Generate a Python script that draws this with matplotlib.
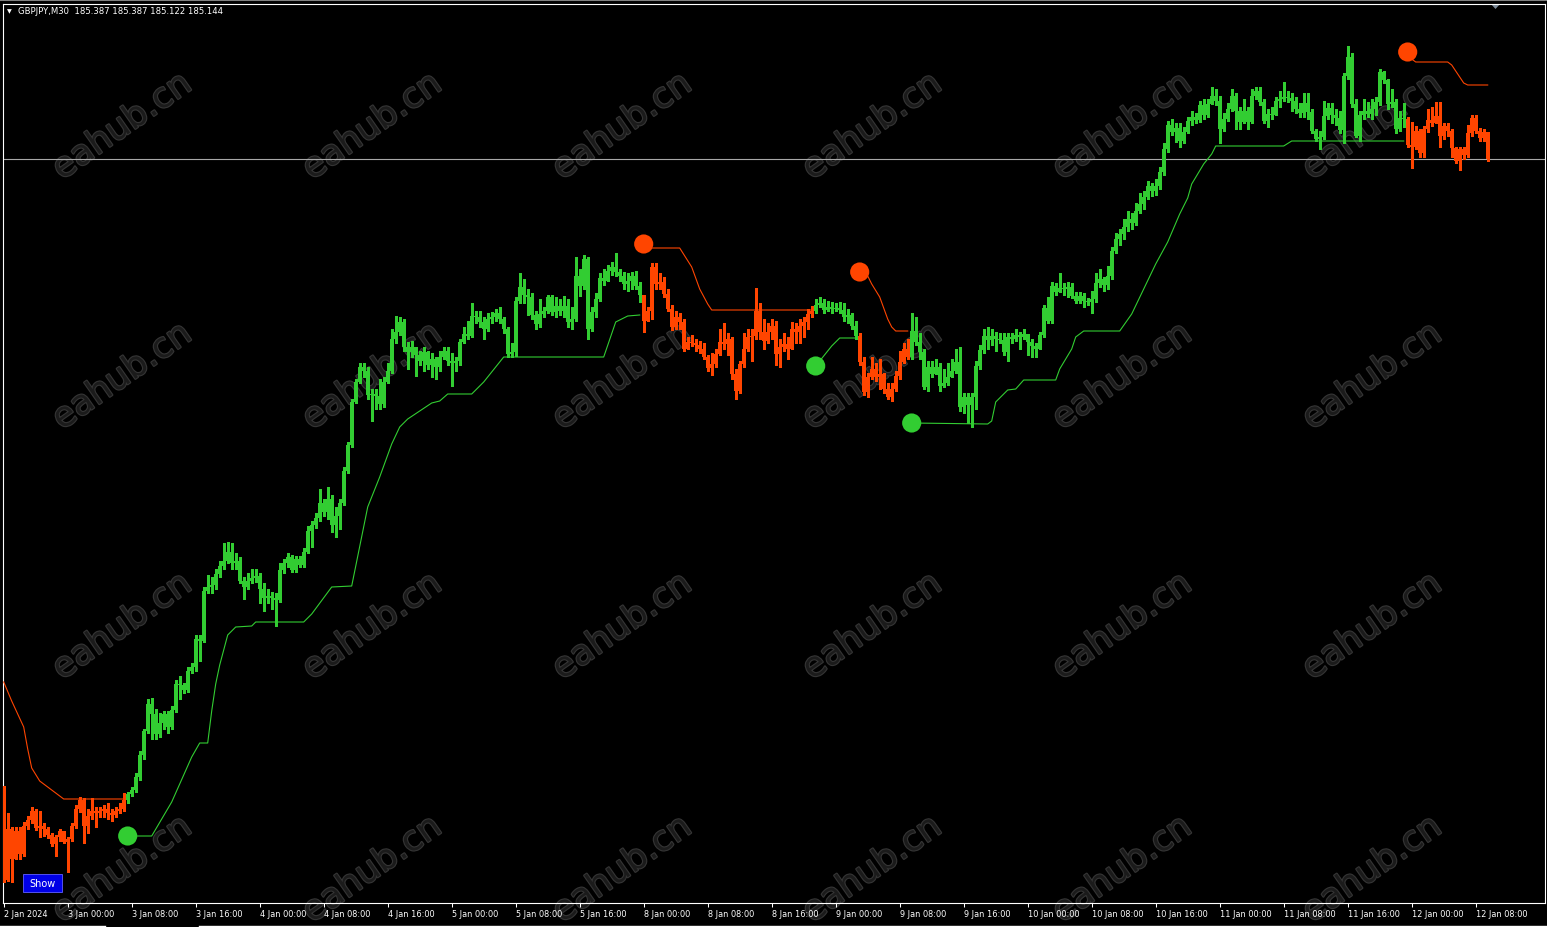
import matplotlib
matplotlib.use("Agg")
import matplotlib.pyplot as plt
import matplotlib.patheffects as pe
from matplotlib.lines import Line2D
from matplotlib.patches import Rectangle, Polygon

# ---------------- data (GBPJPY M30, 2 Jan 16:00 -> 12 Jan 09:30) ----------------
symbol = "GBPJPY,M30"
last_ohlc = [185.387, 185.387, 185.122, 185.144]
first_open = 179.461

closes = [
    178.651, 179.110, 178.840, 179.092, 178.885, 179.137, 179.191, 179.272, 179.119, 179.137,
    179.110, 179.056, 178.975, 179.038, 179.092, 178.993, 179.020, 179.137, 179.290, 179.371,
    179.137, 179.227, 179.272, 179.254, 179.272, 179.290, 179.254, 179.236, 179.272, 179.290,
    179.371, 179.425, 179.461, 179.578, 179.776, 179.992, 180.235, 180.145, 179.965, 180.064,
    180.145, 180.028, 180.181, 180.415, 180.406, 180.361, 180.532, 180.568, 180.820, 180.802,
    181.252, 181.288, 181.306, 181.405, 181.477, 181.522, 181.603, 181.504, 181.522, 181.342,
    181.288, 181.342, 181.369, 181.387, 181.270, 181.189, 181.207, 181.189, 181.171, 181.441,
    181.504, 181.558, 181.441, 181.540, 181.486, 181.603, 181.792, 181.846, 181.909, 182.044,
    181.963, 182.080, 181.846, 181.927, 182.044, 182.332, 182.566, 182.953, 183.133, 183.268,
    183.232, 183.016, 183.025, 183.007, 182.935, 183.133, 183.232, 183.520, 183.583, 183.673,
    183.448, 183.403, 183.448, 183.376, 183.322, 183.403, 183.286, 183.340, 183.268, 183.358,
    183.412, 183.322, 183.304, 183.322, 183.493, 183.565, 183.547, 183.727, 183.718, 183.673,
    183.610, 183.700, 183.718, 183.754, 183.700, 183.610, 183.385, 183.403, 183.862, 183.988,
    183.916, 183.898, 183.736, 183.655, 183.745, 183.772, 183.898, 183.763, 183.817, 183.772,
    183.817, 183.673, 183.700, 184.087, 183.997, 184.240, 183.610, 183.763, 183.880, 184.069,
    184.042, 184.132, 184.168, 184.123, 184.087, 184.015, 184.042, 184.087, 183.997, 183.916,
    183.682, 183.772, 184.168, 184.015, 184.033, 183.925, 183.790, 183.628, 183.718, 183.673,
    183.430, 183.493, 183.484, 183.466, 183.430, 183.358, 183.259, 183.295, 183.385, 183.493,
    183.475, 183.520, 183.205, 183.052, 183.295, 183.430, 183.538, 183.547, 183.772, 183.583,
    183.502, 183.583, 183.637, 183.385, 183.448, 183.475, 183.430, 183.610, 183.583, 183.637,
    183.673, 183.745, 183.772, 183.826, 183.844, 183.781, 183.808, 183.790, 183.799, 183.781,
    183.718, 183.736, 183.637, 183.547, 183.313, 183.043, 183.178, 183.250, 183.178, 183.205,
    183.070, 182.998, 183.070, 183.187, 183.313, 183.430, 183.358, 183.592, 183.493, 183.403,
    183.088, 183.268, 183.205, 183.268, 183.097, 183.124, 183.178, 183.232, 183.313, 182.908,
    182.998, 182.926, 182.998, 183.277, 183.421, 183.547, 183.511, 183.547, 183.520, 183.511,
    183.403, 183.538, 183.520, 183.556, 183.538, 183.565, 183.493, 183.457, 183.430, 183.556,
    183.799, 183.682, 183.997, 183.943, 183.979, 183.970, 183.988, 183.907, 183.862, 183.907,
    183.862, 183.853, 183.880, 184.024, 184.060, 184.006, 184.087, 184.312, 184.420, 184.465,
    184.528, 184.600, 184.564, 184.672, 184.735, 184.798, 184.897, 184.852, 184.897, 185.023,
    185.230, 185.446, 185.383, 185.419, 185.302, 185.383, 185.482, 185.518, 185.491, 185.626,
    185.536, 185.635, 185.707, 185.662, 185.410, 185.500, 185.590, 185.707, 185.572, 185.473,
    185.572, 185.473, 185.707, 185.752, 185.653, 185.482, 185.545, 185.536, 185.662, 185.680,
    185.698, 185.689, 185.662, 185.590, 185.554, 185.644, 185.563, 185.392, 185.320, 185.338,
    185.527, 185.599, 185.536, 185.509, 185.401, 185.887, 186.058, 185.635, 185.347, 185.536,
    185.572, 185.545, 185.590, 185.653, 185.923, 185.851, 185.635, 185.653, 185.410, 185.509,
    185.500, 185.266, 185.248, 185.392, 185.194, 185.410, 185.491, 185.464, 185.527, 185.347,
    185.437, 185.392, 185.239, 185.122, 185.230, 185.176, 185.374, 185.509, 185.392, 185.329,
    185.387, 185.144,
]

highs = [
    179.50, 179.25, 179.13, 179.13, 179.13, 179.17, 179.23, 179.31, 179.29, 179.27,
    179.16, 179.13, 179.07, 179.06, 179.11, 179.09, 179.04, 179.16, 179.33, 179.40,
    179.39, 179.29, 179.39, 179.31, 179.31, 179.33, 179.34, 179.29, 179.31, 179.34,
    179.43, 179.44, 179.49, 179.61, 179.81, 180.01, 180.28, 180.29, 180.19, 180.15,
    180.17, 180.17, 180.22, 180.45, 180.49, 180.42, 180.57, 180.60, 180.86, 180.86,
    181.29, 181.40, 181.38, 181.45, 181.52, 181.68, 181.69, 181.68, 181.59, 181.56,
    181.38, 181.41, 181.45, 181.45, 181.41, 181.32, 181.27, 181.24, 181.23, 181.50,
    181.54, 181.59, 181.58, 181.57, 181.57, 181.64, 181.84, 181.88, 181.95, 182.17,
    182.08, 182.19, 182.12, 182.01, 182.08, 182.37, 182.59, 182.98, 183.16, 183.30,
    183.30, 183.27, 183.07, 183.07, 183.16, 183.18, 183.30, 183.61, 183.73, 183.72,
    183.70, 183.49, 183.50, 183.43, 183.41, 183.45, 183.41, 183.39, 183.36, 183.41,
    183.45, 183.45, 183.39, 183.36, 183.52, 183.63, 183.68, 183.84, 183.77, 183.77,
    183.72, 183.75, 183.76, 183.79, 183.81, 183.72, 183.63, 183.48, 183.90, 184.11,
    184.06, 183.97, 183.93, 183.77, 183.88, 183.81, 183.92, 183.92, 183.90, 183.88,
    183.91, 183.88, 183.81, 184.26, 184.15, 184.28, 184.26, 183.81, 183.93, 184.11,
    184.15, 184.19, 184.21, 184.29, 184.15, 184.12, 184.11, 184.12, 184.13, 184.03,
    183.77, 183.81, 184.20, 184.20, 184.11, 184.08, 183.97, 183.83, 183.77, 183.75,
    183.70, 183.54, 183.56, 183.52, 183.50, 183.48, 183.38, 183.39, 183.43, 183.61,
    183.66, 183.57, 183.54, 183.25, 183.32, 183.57, 183.61, 183.61, 183.98, 183.84,
    183.70, 183.66, 183.70, 183.68, 183.52, 183.57, 183.54, 183.67, 183.66, 183.70,
    183.72, 183.79, 183.82, 183.88, 183.90, 183.88, 183.86, 183.85, 183.84, 183.85,
    183.84, 183.79, 183.75, 183.68, 183.57, 183.36, 183.21, 183.36, 183.30, 183.34,
    183.21, 183.12, 183.12, 183.23, 183.41, 183.48, 183.52, 183.75, 183.72, 183.57,
    183.43, 183.32, 183.32, 183.34, 183.30, 183.25, 183.30, 183.34, 183.43, 183.45,
    183.03, 183.03, 183.03, 183.32, 183.47, 183.61, 183.63, 183.61, 183.58, 183.57,
    183.57, 183.57, 183.57, 183.61, 183.58, 183.61, 183.56, 183.52, 183.48, 183.58,
    183.83, 183.90, 184.03, 184.02, 184.11, 184.02, 184.03, 184.02, 183.94, 183.94,
    183.93, 183.89, 183.95, 184.11, 184.15, 184.08, 184.18, 184.35, 184.47, 184.51,
    184.60, 184.67, 184.65, 184.74, 184.83, 184.85, 184.94, 184.92, 184.96, 185.07,
    185.28, 185.48, 185.50, 185.46, 185.46, 185.43, 185.52, 185.57, 185.55, 185.66,
    185.68, 185.68, 185.79, 185.77, 185.71, 185.55, 185.64, 185.77, 185.73, 185.61,
    185.68, 185.61, 185.77, 185.79, 185.79, 185.68, 185.59, 185.61, 185.70, 185.75,
    185.83, 185.75, 185.73, 185.70, 185.64, 185.73, 185.73, 185.59, 185.41, 185.39,
    185.66, 185.64, 185.64, 185.59, 185.57, 185.91, 186.16, 186.09, 185.68, 185.57,
    185.68, 185.65, 185.68, 185.70, 185.95, 185.93, 185.86, 185.77, 185.68, 185.57,
    185.64, 185.52, 185.47, 185.44, 185.41, 185.44, 185.59, 185.61, 185.65, 185.65,
    185.46, 185.46, 185.41, 185.25, 185.25, 185.25, 185.45, 185.54, 185.54, 185.42,
    185.41, 185.387,
]

lows = [
    178.63, 178.64, 178.63, 178.86, 178.84, 178.87, 179.11, 179.16, 179.10, 179.04,
    179.05, 179.03, 178.96, 178.87, 179.00, 178.98, 178.72, 179.00, 179.12, 179.26,
    178.98, 179.07, 179.20, 179.13, 179.22, 179.22, 179.20, 179.18, 179.22, 179.25,
    179.27, 179.34, 179.41, 179.44, 179.55, 179.74, 179.97, 179.92, 179.92, 179.94,
    180.01, 179.97, 180.01, 180.16, 180.28, 180.33, 180.34, 180.51, 180.53, 180.62,
    180.79, 181.23, 181.23, 181.27, 181.38, 181.45, 181.50, 181.45, 181.45, 181.32,
    181.18, 181.27, 181.32, 181.33, 181.14, 181.07, 181.14, 181.09, 180.94, 181.15,
    181.41, 181.47, 181.42, 181.42, 181.47, 181.47, 181.59, 181.65, 181.82, 181.88,
    181.93, 181.90, 181.78, 181.74, 181.81, 182.03, 182.31, 182.55, 182.94, 183.12,
    183.18, 182.98, 182.78, 182.89, 182.89, 182.91, 183.12, 183.21, 183.48, 183.56,
    183.41, 183.25, 183.36, 183.19, 183.29, 183.23, 183.25, 183.18, 183.16, 183.23,
    183.34, 183.29, 183.10, 183.23, 183.29, 183.48, 183.52, 183.54, 183.66, 183.63,
    183.52, 183.59, 183.66, 183.68, 183.66, 183.57, 183.36, 183.36, 183.37, 183.84,
    183.84, 183.74, 183.70, 183.61, 183.63, 183.72, 183.75, 183.74, 183.72, 183.74,
    183.72, 183.63, 183.61, 183.68, 183.91, 183.97, 183.52, 183.59, 183.72, 183.86,
    184.01, 184.06, 184.10, 184.09, 184.04, 183.97, 183.95, 183.97, 183.97, 183.85,
    183.58, 183.68, 183.70, 183.97, 183.97, 183.90, 183.77, 183.60, 183.61, 183.61,
    183.41, 183.43, 183.46, 183.41, 183.39, 183.34, 183.23, 183.20, 183.27, 183.38,
    183.43, 183.38, 183.16, 182.98, 183.03, 183.27, 183.41, 183.32, 183.52, 183.52,
    183.43, 183.48, 183.52, 183.29, 183.27, 183.41, 183.34, 183.43, 183.48, 183.48,
    183.54, 183.61, 183.72, 183.75, 183.81, 183.75, 183.77, 183.75, 183.77, 183.75,
    183.68, 183.66, 183.61, 183.52, 183.29, 183.02, 183.00, 183.16, 183.14, 183.07,
    183.03, 182.98, 182.96, 183.05, 183.16, 183.30, 183.34, 183.34, 183.47, 183.34,
    183.07, 183.05, 183.18, 183.21, 183.05, 183.09, 183.11, 183.18, 183.21, 182.87,
    182.85, 182.76, 182.73, 182.89, 183.25, 183.39, 183.43, 183.47, 183.41, 183.48,
    183.38, 183.32, 183.48, 183.50, 183.43, 183.52, 183.38, 183.36, 183.36, 183.43,
    183.54, 183.66, 183.66, 183.92, 183.95, 183.92, 183.90, 183.89, 183.84, 183.84,
    183.81, 183.83, 183.75, 183.85, 183.99, 183.95, 183.97, 184.06, 184.29, 184.37,
    184.42, 184.49, 184.51, 184.55, 184.65, 184.69, 184.78, 184.81, 184.82, 184.87,
    185.00, 185.20, 185.36, 185.29, 185.25, 185.28, 185.37, 185.45, 185.46, 185.47,
    185.50, 185.52, 185.64, 185.63, 185.28, 185.39, 185.48, 185.57, 185.41, 185.41,
    185.46, 185.41, 185.46, 185.68, 185.63, 185.46, 185.43, 185.50, 185.55, 185.61,
    185.66, 185.65, 185.57, 185.55, 185.52, 185.52, 185.50, 185.37, 185.30, 185.23,
    185.32, 185.50, 185.46, 185.45, 185.37, 185.28, 185.86, 185.61, 185.34, 185.30,
    185.50, 185.52, 185.50, 185.54, 185.63, 185.82, 185.59, 185.61, 185.37, 185.39,
    185.43, 185.25, 185.06, 185.23, 185.16, 185.16, 185.38, 185.44, 185.46, 185.25,
    185.32, 185.35, 185.16, 185.10, 185.04, 185.14, 185.16, 185.35, 185.37, 185.30,
    185.30, 185.122,
]

# trend state of the indicator (bar index where each trend starts, +1 up / -1 down)
trend_start = [0, 31, 160, 203, 214, 227, 351]
trend_dir = [-1, 1, -1, 1, -1, 1, -1]

# signal dots
signal_bars = [31, 160, 203, 214, 227, 351]
signal_prices = [179.047, 184.375, 183.277, 184.123, 182.764, 186.103]

# trailing stop line pieces (bar index, price)
stop_segments = [
    (-1, [0, 2, 5, 6, 7, 9, 12, 15, 30],
     [180.433, 180.262, 180.028, 179.830, 179.659, 179.542, 179.461, 179.380, 179.380]),
    (1, [31, 37, 42, 47, 49, 51, 52, 53, 54, 56, 58, 62, 63, 75, 77, 82, 87, 91, 94, 97, 99,
         101, 107, 109, 111, 117, 120, 125, 150, 153, 156, 159],
     [179.047, 179.047, 179.353, 179.758, 179.884, 179.884, 180.172, 180.415, 180.586, 180.856,
      180.928, 180.937, 180.973, 180.973, 181.045, 181.288, 181.297, 182.008, 182.278, 182.575,
      182.728, 182.800, 182.944, 182.962, 183.025, 183.025, 183.133, 183.358, 183.358, 183.673,
      183.727, 183.736]),
    (-1, [160, 169, 172, 174, 176, 177, 202],
     [184.339, 184.339, 184.168, 183.970, 183.835, 183.781, 183.781]),
    (1, [203, 205, 207, 209, 213], [183.277, 183.367, 183.457, 183.529, 183.529]),
    (-1, [214, 216, 217, 219, 221, 222, 223, 226],
     [184.123, 184.087, 184.015, 183.898, 183.700, 183.628, 183.592, 183.592]),
    (1, [227, 246, 247, 248, 250, 251, 253, 255, 263, 264, 267, 268, 270, 279, 282, 285, 288,
         291, 294, 296, 297, 300, 302, 303, 320, 322, 350],
     [182.764, 182.755, 182.782, 182.953, 183.025, 183.061, 183.070, 183.151, 183.151, 183.250,
      183.430, 183.538, 183.592, 183.592, 183.745, 183.970, 184.195, 184.393, 184.645, 184.789,
      184.915, 185.095, 185.185, 185.257, 185.257, 185.302, 185.302]),
    (-1, [351, 352, 353, 361, 362, 364, 365, 366, 371],
     [186.103, 186.040, 186.013, 186.013, 185.986, 185.878, 185.824, 185.806, 185.806]),
]

tick_bars = [0, 16, 32, 48, 64, 80, 96, 112, 128, 144, 160, 176, 192, 208, 224, 240, 256,
             272, 288, 304, 320, 336, 352, 368]
tick_labels = ["2 Jan 2024", "3 Jan 00:00", "3 Jan 08:00", "3 Jan 16:00", "4 Jan 00:00",
               "4 Jan 08:00", "4 Jan 16:00", "5 Jan 00:00", "5 Jan 08:00", "5 Jan 16:00",
               "8 Jan 00:00", "8 Jan 08:00", "8 Jan 16:00", "9 Jan 00:00", "9 Jan 08:00",
               "9 Jan 16:00", "10 Jan 00:00", "10 Jan 08:00", "10 Jan 16:00", "11 Jan 00:00",
               "11 Jan 08:00", "11 Jan 16:00", "12 Jan 00:00", "12 Jan 08:00"]

assert len(closes) == len(highs) == len(lows) == 372

# ---------------- style ----------------
UP = "#32cd32"
DN = "#ff4500"
W, H = 1547, 928
plt.rcParams["font.family"] = ["DejaVu Sans"]

fig = plt.figure(figsize=(W / 100, H / 100), dpi=100, facecolor="black")
ax = fig.add_axes([3 / W, (H - 904) / H, (1545 - 3) / W, (904 - 5) / H])
ax.set_facecolor("black")

# trend per bar
n = len(closes)
dirs = []
for k in range(len(trend_start)):
    end = trend_start[k + 1] if k + 1 < len(trend_start) else n
    dirs += [trend_dir[k]] * (end - trend_start[k])
colors = [UP if d > 0 else DN for d in dirs]

opens = [first_open] + closes[:-1]
xs = list(range(n))
wlo = [min(l, o, c) for l, o, c in zip(lows, opens, closes)]
whi = [max(h, o, c) for h, o, c in zip(highs, opens, closes)]
ax.vlines(xs, wlo, whi, colors=colors, linewidth=0.75, antialiased=False, zorder=3)
bot = [min(o, c) for o, c in zip(opens, closes)]
hgt = [max(abs(c - o), 0.009) for o, c in zip(opens, closes)]
ax.bar(xs, hgt, bottom=bot, width=0.75, color=colors, linewidth=0, antialiased=False, zorder=4)

# stop lines
for d, bx, bv in stop_segments:
    ax.plot(bx, bv, color=UP if d > 0 else DN, linewidth=0.8, zorder=5)

# signal dots
sig_cols = [UP if dirs[b] > 0 else DN for b in signal_bars]
ax.scatter(signal_bars, signal_prices, s=190, c=sig_cols, linewidths=0, zorder=6)

# bid line
ax.axhline(last_ohlc[3], color="#a8a8a8", linewidth=0.8, zorder=2)

ax.set_xlim(-0.175, 385.325)
ax.set_ylim(186.58 - 0.009 * 904, 186.58 - 0.009 * 5)
ax.set_yticks([])
ax.set_xticks(tick_bars)
ax.set_xticklabels(tick_labels)
for lab in ax.get_xticklabels():
    lab.set_horizontalalignment("left")
ax.tick_params(axis="x", colors="white", direction="out", length=3.2, width=0.75,
               labelsize=5.9, pad=1.2)
for s in ax.spines.values():
    s.set_color("white")
    s.set_linewidth(0.8)

# watermarks
for wy in [127, 377, 627, 870]:
    for wx in [122, 372, 622, 872, 1122, 1372]:
        fig.text(wx / W, 1 - wy / H, "eahub.cn", rotation=35, ha="center", va="center",
                 fontsize=25, color="#1b1b1b", family="DejaVu Sans", zorder=1,
                 path_effects=[pe.withStroke(linewidth=1.6, foreground="#353535")])
ax.set_zorder(2)
ax.patch.set_alpha(0)

# header
fig.text(7 / W, 1 - 12 / H, "\u25bc", color="white", fontsize=4.5, va="center", ha="left")
fig.text(18 / W, 1 - 12 / H, symbol + "  " + " ".join(f"{v:.3f}" for v in last_ohlc),
         color="white", fontsize=6.1, va="center", ha="left")

# top frame band and chart-shift marker
fig.add_artist(Line2D([0, 1], [1 - 1 / H, 1 - 1 / H], color="#808080", linewidth=1.5,
                      transform=fig.transFigure))
fig.add_artist(Polygon([[1491 / W, 1 - 5 / H], [1500 / W, 1 - 5 / H], [1495.5 / W, 1 - 10 / H]],
                       closed=True, facecolor="#7d8b99", edgecolor="none",
                       transform=fig.transFigure))
# bottom tab line
for x0, x1 in [(0, 105), (199, 1547)]:
    fig.add_artist(Line2D([x0 / W, x1 / W], [1 - 926.5 / H, 1 - 926.5 / H], color="white",
                          linewidth=1.0, transform=fig.transFigure))

# Show button
fig.add_artist(Rectangle((23 / W, 1 - 893 / H), 39 / W, 18 / H, facecolor="#0000e6",
                         edgecolor="#6060ff", linewidth=0.6, transform=fig.transFigure,
                         zorder=10))
fig.text(42.5 / W, 1 - 884 / H, "Show", color="white", fontsize=7, ha="center", va="center",
         zorder=11)

fig.savefig("out.png", dpi=100, facecolor="black")
